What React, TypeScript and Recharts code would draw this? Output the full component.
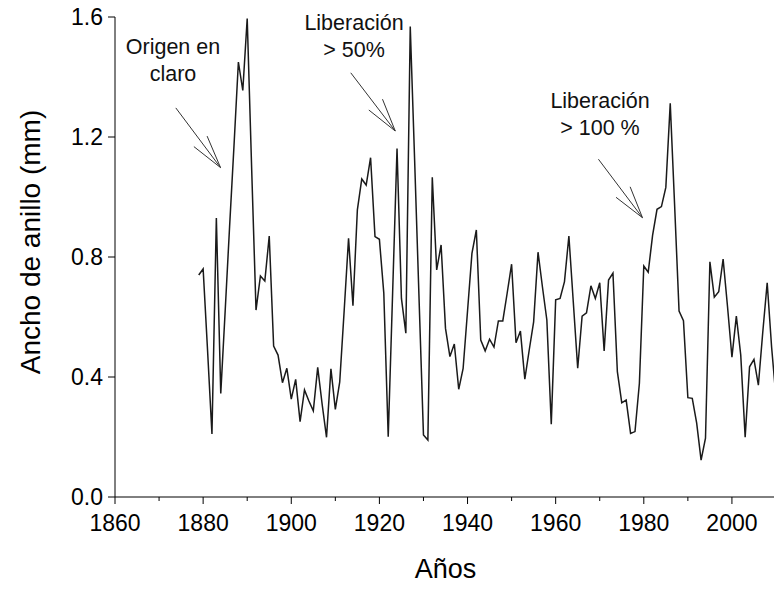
import React from 'react';
import { LineChart, Line, XAxis, YAxis, ReferenceLine } from 'recharts';

const years = [
  1879, 1880, 1881, 1882, 1883, 1884, 1885, 1886, 1887, 1888, 1889,
  1890, 1891, 1892, 1893, 1894, 1895, 1896, 1897, 1898, 1899,
  1900, 1901, 1902, 1903, 1904, 1905, 1906, 1907, 1908, 1909,
  1910, 1911, 1912, 1913, 1914, 1915, 1916, 1917, 1918, 1919,
  1920, 1921, 1922, 1923, 1924, 1925, 1926, 1927, 1928, 1929,
  1930, 1931, 1932, 1933, 1934, 1935, 1936, 1937, 1938, 1939,
  1940, 1941, 1942, 1943, 1944, 1945, 1946, 1947, 1948, 1949,
  1950, 1951, 1952, 1953, 1954, 1955, 1956, 1957, 1958, 1959,
  1960, 1961, 1962, 1963, 1964, 1965, 1966, 1967, 1968, 1969,
  1970, 1971, 1972, 1973, 1974, 1975, 1976, 1977, 1978, 1979,
  1980, 1981, 1982, 1983, 1984, 1985, 1986, 1987, 1988, 1989,
  1990, 1991, 1992, 1993, 1994, 1995, 1996, 1997, 1998, 1999,
  2000, 2001, 2002, 2003, 2004, 2005, 2006, 2007, 2008, 2009, 2010,
];

// ring width (mm)
const ringWidth = [
  0.74, 0.76, 0.49, 0.21, 0.93, 0.345, 0.62, 0.9, 1.17, 1.45, 1.355,
  1.595, 1.1, 0.623, 0.737, 0.72, 0.87, 0.503, 0.473, 0.381, 0.429,
  0.326, 0.392, 0.251, 0.357, 0.32, 0.287, 0.432, 0.31, 0.199, 0.427,
  0.292, 0.384, 0.62, 0.862, 0.638, 0.957, 1.06, 1.04, 1.131, 0.868,
  0.859, 0.679, 0.201, 0.68, 1.162, 0.662, 0.546, 1.568, 1.12, 0.66,
  0.207, 0.19, 1.066, 0.757, 0.84, 0.562, 0.468, 0.51, 0.359, 0.429,
  0.62, 0.812, 0.89, 0.523, 0.487, 0.526, 0.5, 0.587, 0.587, 0.68,
  0.776, 0.514, 0.553, 0.393, 0.49, 0.584, 0.816, 0.7, 0.59, 0.243,
  0.657, 0.662, 0.718, 0.87, 0.65, 0.429, 0.603, 0.614, 0.704, 0.662,
  0.714, 0.487, 0.723, 0.746, 0.418, 0.314, 0.323, 0.212, 0.218, 0.379,
  0.77, 0.749, 0.873, 0.959, 0.968, 1.032, 1.312, 0.97, 0.62, 0.588,
  0.331, 0.329, 0.246, 0.123, 0.196, 0.784, 0.666, 0.684, 0.793, 0.634,
  0.466, 0.603, 0.473, 0.199, 0.434, 0.459, 0.373, 0.55, 0.714, 0.5, 0.33,
];

// every 10 years a tick, labelled every 20
const xTicks = [1860, 1870, 1880, 1890, 1900, 1910, 1920, 1930, 1940, 1950, 1960, 1970, 1980, 1990, 2000, 2010];
const xLabelled = [1860, 1880, 1900, 1920, 1940, 1960, 1980, 2000];
const yTicks = [0, 0.4, 0.8, 1.2, 1.6];

// arrows: [shaft start, tip, head 1, head 2] in (year, mm)
const arrows = [
  [[1873.8, 1.297], [1883.95, 1.098], [1880.9, 1.203], [1877.9, 1.168]],
  [[1913.5, 1.414], [1923.6, 1.22], [1920.7, 1.326], [1917.6, 1.29]],
  [[1969.7, 1.126], [1979.7, 0.931], [1976.9, 1.034], [1973.7, 0.999]],
];

const notes = [
  { lines: ['Origen en', 'claro'], x: 173, y: 34 },
  { lines: ['Liberación', '> 50%'], x: 354, y: 10 },
  { lines: ['Liberación', '> 100 %'], x: 600, y: 88 },
];

const data = years.map((year, i) => ({ year, width: ringWidth[i] }));

const FONT = '"Liberation Sans", Arial, sans-serif';

const YLabel = () => (
  <text
    x={30}
    y={242}
    transform="rotate(-90, 30, 242)"
    textAnchor="middle"
    dominantBaseline="central"
    fontSize={28}
    fontFamily={FONT}
    fill="#000"
  >
    Ancho de anillo (mm)
  </text>
);

const YearTick = ({ x, y, payload }: any) => {
  const major = xLabelled.includes(payload.value);
  return (
    <g>
      <line x1={x} y1={y} x2={x} y2={y + (major ? 7 : 4)} stroke="#000" strokeWidth={1} />
      {major && (
        <text x={x} y={y + 34} textAnchor="middle" fontSize={23} fontFamily={FONT} fill="#000">
          {payload.value}
        </text>
      )}
    </g>
  );
};

export default function App() {
  return (
    <div style={{ position: 'absolute', left: 0, top: 0, width: 774, height: 594, overflow: 'hidden', background: '#fff', fontFamily: FONT }}>
      <LineChart width={776} height={594} data={data} margin={{ top: 17, right: 0, bottom: 0, left: 0 }}>
        <XAxis
          type="number"
          dataKey="year"
          domain={[1860, 2010]}
          ticks={xTicks}
          interval={0}
          allowDataOverflow
          height={97}
          tickSize={0}
          tickMargin={0}
          tickLine={false}
          stroke="#000"
          tick={<YearTick />}
          label={{ value: 'Años', position: 'insideBottom', offset: 16, fill: '#000', fontSize: 27, fontFamily: FONT }}
        />
        <YAxis
          type="number"
          domain={[0, 1.6]}
          ticks={yTicks}
          interval={0}
          width={115}
          tickSize={7}
          tickMargin={5}
          stroke="#000"
          tickFormatter={(v: number) => v.toFixed(1)}
          tick={{ fill: '#000', fontSize: 23, fontFamily: FONT }}
          label={<YLabel />}
        />
        {arrows.map((a, i) => (
          <React.Fragment key={i}>
            <ReferenceLine segment={[{ x: a[0][0], y: a[0][1] }, { x: a[1][0], y: a[1][1] }]} stroke="#333" strokeWidth={1} ifOverflow="visible" />
            <ReferenceLine segment={[{ x: a[2][0], y: a[2][1] }, { x: a[1][0], y: a[1][1] }]} stroke="#333" strokeWidth={1} ifOverflow="visible" />
            <ReferenceLine segment={[{ x: a[3][0], y: a[3][1] }, { x: a[1][0], y: a[1][1] }]} stroke="#333" strokeWidth={1} ifOverflow="visible" />
          </React.Fragment>
        ))}
        <Line
          type="linear"
          dataKey="width"
          stroke="#1a1a1a"
          strokeWidth={1.5}
          dot={false}
          isAnimationActive={false}
        />
      </LineChart>
      {notes.map((n, i) => (
        <div
          key={i}
          style={{
            position: 'absolute',
            left: n.x - 80,
            top: n.y,
            width: 160,
            textAlign: 'center',
            fontSize: 21.5,
            lineHeight: '27px',
            color: '#111',
          }}
        >
          {n.lines.map((l) => (
            <div key={l}>{l}</div>
          ))}
        </div>
      ))}
    </div>
  );
}
